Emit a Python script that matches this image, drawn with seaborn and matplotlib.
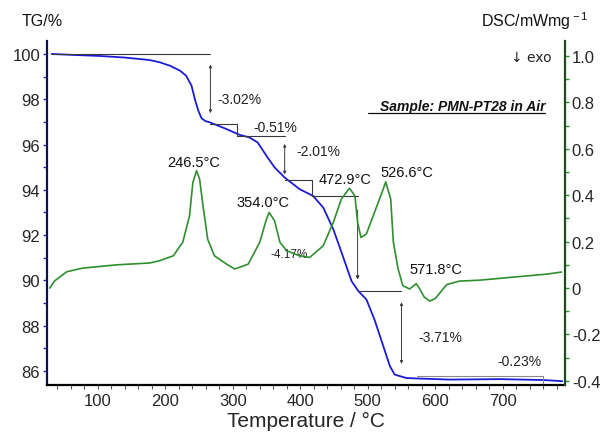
import matplotlib
matplotlib.use("Agg")
import matplotlib.pyplot as plt
import seaborn as sns
import pandas as pd

# ---- data ----
tg_temp = [32, 60, 103, 140, 177, 192, 207, 222, 231, 239, 244, 249, 254, 260, 266, 291, 310,
           325, 337, 350, 362, 377, 399, 419, 434, 449, 463, 476, 486, 498, 510, 523, 533,
           540, 557, 572, 621, 696, 760, 788]
tg_val = [100.0, 99.96, 99.91, 99.84, 99.73, 99.63, 99.48, 99.26, 99.04, 98.6, 98.0, 97.5,
          97.15, 97.03, 96.98, 96.68, 96.43, 96.31, 96.09, 95.5, 94.99, 94.54, 94.03, 93.73,
          93.22, 92.26, 91.08, 89.97, 89.53, 89.16, 88.27, 87.1, 86.2, 85.84, 85.69, 85.67,
          85.62, 85.64, 85.6, 85.55]

dsc_temp = [29, 36, 54, 78, 128, 177, 192, 212, 226, 236, 241, 246.5, 251, 256, 263, 273, 291,
            303, 323, 340, 350, 354, 362, 370, 380, 399, 414, 434, 449, 461, 472.9, 481, 485,
            490, 498, 510, 523, 526.6, 534, 538, 545, 552, 562, 571.8, 577, 584, 592, 600,
            617, 636, 666, 715, 765, 787]
dsc_val = [0.0, 0.03, 0.07, 0.086, 0.1, 0.108, 0.118, 0.139, 0.197, 0.31, 0.455, 0.506, 0.47,
           0.355, 0.21, 0.139, 0.103, 0.082, 0.103, 0.197, 0.297, 0.326, 0.29, 0.197, 0.161,
           0.139, 0.132, 0.182, 0.283, 0.384, 0.43, 0.398, 0.283, 0.218, 0.233, 0.326, 0.427,
           0.458, 0.384, 0.197, 0.082, 0.01, -0.004, 0.019, -0.004, -0.04, -0.056, -0.045,
           0.015, 0.03, 0.034, 0.047, 0.06, 0.069]

x_ticks = [100, 200, 300, 400, 500, 600, 700]
tg_ticks = [86, 88, 90, 92, 94, 96, 98, 100]
dsc_ticks = [-0.4, -0.2, 0, 0.2, 0.4, 0.6, 0.8, 1.0]
dsc_tick_labels = ["-0.4", "-0.2", "0", "0.2", "0.4", "0.6", "0.8", "1.0"]

peak_labels = ["246.5°C", "354.0°C", "472.9°C", "526.6°C", "571.8°C"]
step_labels = ["-3.02%", "-0.51%", "-2.01%", "-4.17%", "-3.71%", "-0.23%"]

# ---- style ----
sns.set_theme(style="white")
plt.rcParams["font.family"] = ["Liberation Sans", "DejaVu Sans"]
plt.rcParams["axes.unicode_minus"] = False
plt.rcParams["mathtext.fontset"] = "custom"
plt.rcParams["mathtext.rm"] = "Liberation Sans"

BLUE = "#1c1cd6"
GREEN = "#2f8f2f"
GREY = "#3a3a3a"

fig = plt.figure(figsize=(6.05, 4.39), dpi=100)
ax = fig.add_axes([0.0777, 0.1207, 0.856, 0.7836])
ax2 = ax.twinx()

tg_df = pd.DataFrame({"T": tg_temp, "TG": tg_val})
dsc_df = pd.DataFrame({"T": dsc_temp, "DSC": dsc_val})

sns.lineplot(data=tg_df, x="T", y="TG", ax=ax, color=BLUE, lw=1.3, sort=False)
sns.lineplot(data=dsc_df, x="T", y="DSC", ax=ax2, color=GREEN, lw=1.2, sort=False)

ax.set_xlim(25, 792)
ax.set_ylim(85.38, 100.57)
ax2.set_ylim(-0.418, 1.065)

ax.set_xlabel("Temperature / °C", fontsize=15, labelpad=2)
ax.set_ylabel("")
ax2.set_ylabel("")

ax.set_xticks(x_ticks)
ax.set_xticks(range(40, 792, 20), minor=True)
ax.set_yticks(tg_ticks)
ax.set_yticks(range(86, 101), minor=True)
ax2.set_yticks(dsc_ticks)
ax2.set_yticklabels(dsc_tick_labels)
ax2.set_yticks([v / 10 for v in range(-4, 11)], minor=True)

for a in (ax, ax2):
    for s in a.spines.values():
        s.set_linewidth(1.6)
ax.spines["top"].set_visible(False)
ax2.spines["top"].set_visible(False)
ax.spines["right"].set_visible(False)
ax.spines["left"].set_color("#101050")
ax.spines["bottom"].set_color("#000000")
ax2.spines["left"].set_visible(False)
ax2.spines["bottom"].set_visible(False)
ax2.spines["right"].set_color("#1d4d1d")

ax.tick_params(axis="x", which="both", direction="out", length=3, width=0.8, color="#555555",
               labelsize=12, pad=3, bottom=True)
ax.tick_params(axis="y", which="both", direction="out", length=3, width=1, color="#2a2ab0",
               labelsize=12, pad=2, left=True)
ax2.tick_params(axis="y", which="both", direction="out", length=3, width=1, color="#2f8f2f",
                labelsize=12, pad=2, right=True)

# ---- step annotation lines (TG axis coordinates) ----
lk = dict(color=GREY, lw=0.8)
ax.plot([32, 267], [100.0, 100.0], **lk)
ax.annotate("", xy=(267, 97.26), xytext=(267, 99.65),
            arrowprops=dict(arrowstyle="<|-|>", color=GREY, lw=0.7, mutation_scale=4))
ax.plot([267, 307], [96.9, 96.9], **lk)
ax.plot([307, 307], [96.9, 96.37], **lk)
ax.plot([307, 377], [96.37, 96.37], **lk)
ax.annotate("", xy=(377, 94.56), xytext=(377, 96.15),
            arrowprops=dict(arrowstyle="<|-|>", color=GREY, lw=0.7, mutation_scale=4))
ax.plot([377, 417], [94.42, 94.42], **lk)
ax.plot([417, 417], [94.42, 93.72], **lk)
ax.plot([417, 485], [93.72, 93.72], **lk)
ax.annotate("", xy=(485, 89.91), xytext=(485, 93.23),
            arrowprops=dict(arrowstyle="-|>", color=GREY, lw=0.7, mutation_scale=5))
ax.plot([485, 550], [89.51, 89.51], **lk)
ax.annotate("", xy=(550, 86.19), xytext=(550, 89.16),
            arrowprops=dict(arrowstyle="<|-|>", color=GREY, lw=0.7, mutation_scale=4))
ax.plot([573, 759], [85.80, 85.80], color="#888888", lw=0.8)
ax.plot([759, 759], [85.80, 85.44], color="#888888", lw=0.8)

# ---- step labels ----
tk = dict(fontsize=10, color="#222222", va="center")
ax.text(278, 98.0, step_labels[0], ha="left", **tk)
ax.text(330, 96.77, step_labels[1], ha="left", **tk)
ax.text(395, 95.71, step_labels[2], ha="left", **tk)
ax.text(383, 91.15, step_labels[3], ha="center", fontsize=8.5, color="#222222", va="center")
ax.text(608, 87.52, step_labels[4], ha="center", **tk)
ax.text(725, 86.42, step_labels[5], ha="center", **tk)

# ---- peak labels ----
pk = dict(fontsize=10.5, color="#111111", va="center", ha="center")
ax.text(242, 95.22, peak_labels[0], **pk)
ax.text(345, 93.45, peak_labels[1], **pk)
ax.text(467, 94.47, peak_labels[2], **pk)
ax.text(558, 94.78, peak_labels[3], **pk)
ax.text(601, 90.49, peak_labels[4], **pk)

# ---- header texts ----
fig.text(22 / 605, 1 - 21 / 439, "TG/%", fontsize=11.5, ha="left", va="center", color="#111111")
fig.text(589 / 605, 1 - 21 / 439, r"DSC/mWmg$^{\rm -1}$", fontsize=11.5, ha="right",
         va="center", color="#111111")
fig.text(552 / 605, 1 - 58 / 439, "↓ exo", fontsize=10, ha="right", va="center",
         color="#222222", family=["DejaVu Sans"])
fig.text(545 / 605, 1 - 107 / 439, "Sample: PMN-PT28 in Air", fontsize=10, ha="right",
         va="center", style="italic", weight="bold", color="#111111")
fig.add_artist(plt.Line2D([368 / 605, 545 / 605], [1 - 114 / 439, 1 - 114 / 439],
                          color="#111111", lw=0.9))

fig.savefig("out.png", dpi=100)
